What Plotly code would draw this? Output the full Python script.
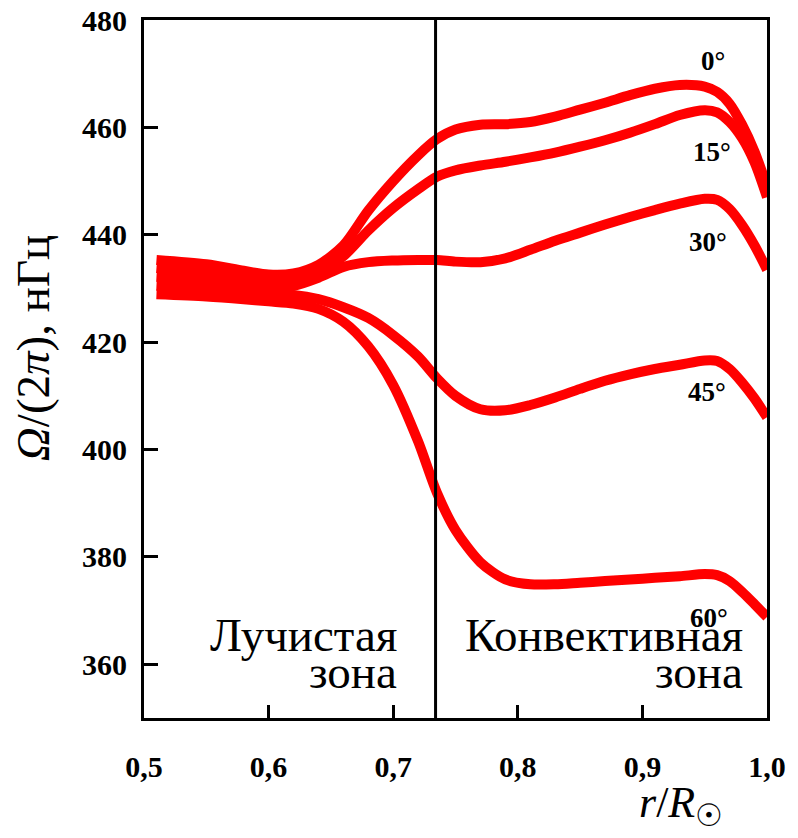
import plotly.graph_objects as go

# Fractional radius r/R (sample points along each rotation profile)
radius = [0.51, 0.55, 0.58, 0.60, 0.62, 0.64, 0.66, 0.68, 0.70, 0.72, 0.735,
          0.75, 0.77, 0.79, 0.81, 0.83, 0.85, 0.87, 0.89, 0.91, 0.93, 0.95,
          0.96, 0.97, 0.98, 0.99, 1.0]

# Rotation rate Omega/(2 pi), nHz, for each latitude
omega_lat0 = [435.3, 434.5, 433.3, 432.6, 432.8, 434.4, 438.0, 444.5, 450.0, 454.8, 457.8,
              459.6, 460.5, 460.6, 461.0, 462.0, 463.3, 464.6, 466.0, 467.2, 467.9, 467.6,
              466.6, 464.4, 460.5, 455.5, 449.0]
omega_lat15 = [433.8, 433.0, 432.1, 431.5, 431.7, 432.9, 436.0, 440.8, 445.0, 448.5, 450.8,
               452.0, 452.9, 453.6, 454.4, 455.3, 456.4, 457.6, 459.0, 460.6, 462.3, 463.2,
               462.8, 461.0, 458.0, 453.5, 447.0]
omega_lat30 = [432.2, 431.6, 430.8, 430.3, 430.5, 432.0, 434.0, 434.9, 435.2, 435.3, 435.3,
               435.0, 434.9, 435.6, 437.2, 438.9, 440.4, 441.9, 443.3, 444.6, 445.8, 446.7,
               446.5, 444.8, 441.8, 438.0, 433.5]
omega_lat45 = [430.5, 430.0, 429.3, 429.0, 428.8, 428.0, 426.5, 424.5, 421.3, 417.3, 413.3,
               410.0, 407.5, 407.3, 408.3, 409.7, 411.3, 412.8, 414.0, 415.0, 415.8, 416.6,
               416.5, 415.0, 412.5, 409.5, 406.0]
omega_lat60 = [428.9, 428.5, 428.0, 427.6, 427.2, 426.2, 423.8, 419.2, 412.0, 401.5, 392.0,
               385.0, 379.0, 375.8, 374.9, 374.9, 375.2, 375.5, 375.8, 376.1, 376.4, 376.8,
               376.6, 375.5, 373.5, 371.2, 368.8]

latitude_labels = ["0°", "15°", "30°", "45°", "60°"]
label_r = [0.9567, 0.956, 0.9527, 0.9519, 0.9535]
label_omega = [472.4, 455.4, 438.7, 410.8, 368.7]

x_ticks = [0.5, 0.6, 0.7, 0.8, 0.9, 1.0]
x_ticktext = ["0,5", "0,6", "0,7", "0,8", "0,9", "1,0"]
y_ticks = [360, 380, 400, 420, 440, 460, 480]

# Base of the convection zone
boundary_r = 0.734

series = [omega_lat0, omega_lat15, omega_lat30, omega_lat45, omega_lat60]

fig = go.Figure()
for values in series:
    fig.add_trace(go.Scatter(
        x=radius, y=values, mode="lines",
        line=dict(color="#ff0000", width=10, shape="spline", smoothing=0.8),
        showlegend=False, hoverinfo="skip",
    ))

fig.add_shape(type="line", xref="x", yref="y",
              x0=boundary_r, x1=boundary_r, y0=350, y1=480,
              line=dict(color="black", width=3))

label_font = dict(family="Liberation Serif", size=27, color="black", weight="bold")
for txt, xr, yv in zip(latitude_labels, label_r, label_omega):
    fig.add_annotation(x=xr, y=yv, xref="x", yref="y", text=txt, showarrow=False,
                       font=label_font, xanchor="center", yanchor="middle")

# Zone names, each word placed on its own line
zone_font = dict(family="Liberation Serif", size=47, color="black")
zone_text = [
    ("Лучистая", 0.7045, 360.2),
    ("зона", 0.7045, 353.4),
    ("Конвективная", 0.9825, 360.2),
    ("зона", 0.9825, 353.4),
]
for txt, xr, yv in zone_text:
    fig.add_annotation(x=xr, y=yv, xref="x", yref="y", text=txt, showarrow=False,
                       font=zone_font, xanchor="right", yanchor="bottom")

# Axis titles
fig.add_annotation(
    x=-0.178, y=0.53, xref="paper", yref="paper",
    text="<i>Ω</i>/(2<i>π</i>), нГц", textangle=-90, showarrow=False,
    font=dict(family="Liberation Serif", size=47, color="black"),
    xanchor="center", yanchor="middle",
)
fig.add_annotation(
    x=0.862, y=-0.125, xref="paper", yref="paper",
    text="<i>r</i>/<i>R</i><sub>☉</sub>", showarrow=False,
    font=dict(family="Liberation Serif", size=44, color="black"),
    xanchor="center", yanchor="middle",
)

tick_font = dict(family="Liberation Serif", size=30, color="black", weight="bold")
fig.update_xaxes(
    range=[0.5, 1.0], tickvals=x_ticks, ticktext=x_ticktext,
    ticks="inside", ticklen=13, tickwidth=3, tickcolor="black",
    showline=True, linewidth=3, linecolor="black", mirror=True,
    showgrid=False, zeroline=False, tickfont=tick_font, ticklabelstandoff=20,
    automargin=False,
)
fig.update_yaxes(
    range=[350, 480], tickvals=y_ticks,
    ticks="inside", ticklen=14, tickwidth=3, tickcolor="black",
    showline=True, linewidth=3, linecolor="black", mirror=True,
    showgrid=False, zeroline=False, tickfont=tick_font, ticklabelstandoff=8,
    automargin=False,
)
fig.update_layout(
    width=798, height=838,
    margin=dict(l=144, r=31, t=20, b=120),
    paper_bgcolor="white", plot_bgcolor="white",
)

fig.write_html("out.html")
